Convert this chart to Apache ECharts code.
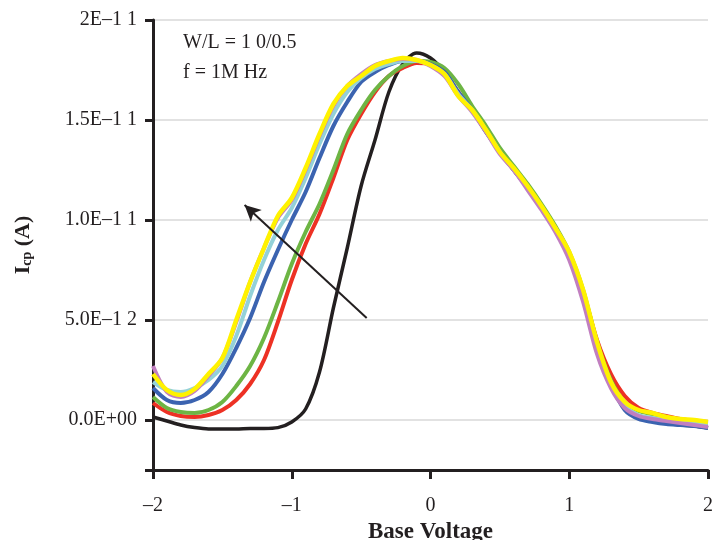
<!DOCTYPE html>
<html>
  <head>
    <meta http-equiv="Content-Type" content="text/html; charset=utf-8" />
    <title>Icp vs Base Voltage</title>
    <script src="https://cdn.jsdelivr.net/npm/echarts@6.0.0/dist/echarts.min.js"></script>
    <style>
      html,
      body {
        margin: 0;
        padding: 0;
        background: #fff;
      }
      #chart {
        width: 713px;
        height: 540px;
      }
    </style>
  </head>

  <body>
    <div id="chart"></div>

    <script type="text/javascript">
      "use strict"

      // 横轴 (V)
      const voltage = [
        -2.0, -1.9, -1.8, -1.7, -1.6, -1.5, -1.4, -1.3, -1.2, -1.1, -1.0, -0.9, -0.8, -0.7, -0.6, -0.5, -0.4, -0.3, -0.2, -0.1, 0.0,
        0.1, 0.2, 0.3, 0.4, 0.5, 0.6, 0.7, 0.8, 0.9, 1.0, 1.1, 1.2, 1.3, 1.4, 1.5, 1.6, 1.7, 1.8, 1.9, 2.0
      ]

      // Icp，单位 1E-12 A
      const icpBlack = [
        0.15, -0.05, -0.25, -0.38, -0.45, -0.45, -0.45, -0.42, -0.42, -0.38, -0.1, 0.55, 2.4, 5.6, 8.6, 11.7, 14.0, 16.4, 17.8, 18.35, 18.1,
        17.4, 16.4, 15.5, 14.4, 13.4, 12.5, 11.6, 10.6, 9.6, 8.3, 6.3, 3.7, 1.7, 0.6, 0.15, -0.05, -0.15, -0.25, -0.3, -0.4
      ]
      const icpRed = [
        0.85, 0.4, 0.2, 0.15, 0.25, 0.5, 1.0, 1.8, 3.0, 4.9, 7.0, 8.8, 10.3, 12.1, 14.0, 15.3, 16.4, 17.2, 17.6, 17.85, 17.8,
        17.35, 16.4, 15.5, 14.5, 13.4, 12.5, 11.6, 10.6, 9.6, 8.3, 6.4, 4.0, 2.3, 1.2, 0.6, 0.35, 0.2, 0.05, -0.05, -0.1
      ]
      const icpGreen = [
        1.15, 0.6, 0.4, 0.35, 0.5, 0.9, 1.7, 2.7, 4.1, 5.9, 7.8, 9.4, 10.8, 12.5, 14.3, 15.5, 16.5, 17.2, 17.7, 17.95, 17.9,
        17.6, 16.8, 15.7, 14.7, 13.6, 12.7, 11.8, 10.8, 9.7, 8.4, 6.5, 3.9, 2.0, 0.9, 0.45, 0.3, 0.15, 0.0, -0.1, -0.15
      ]
      const icpBlue = [
        1.6, 1.0, 0.85, 1.0, 1.4, 2.3, 3.6, 5.1, 6.9, 8.5, 10.0, 11.4, 13.1, 14.7, 15.9, 16.9, 17.4, 17.75, 17.95, 17.95, 17.8,
        17.4, 16.4, 15.5, 14.4, 13.4, 12.5, 11.6, 10.6, 9.6, 8.3, 6.3, 3.7, 1.8, 0.5, 0.05, -0.1, -0.2, -0.25, -0.3, -0.4
      ]
      const icpCyan = [
        1.9, 1.5, 1.4, 1.6, 2.0, 2.7, 4.2, 6.2, 8.0, 9.5, 10.6, 12.1, 13.8, 15.3, 16.4, 17.1, 17.55, 17.8, 17.95, 17.95, 17.75,
        17.3, 16.3, 15.5, 14.5, 13.4, 12.5, 11.6, 10.6, 9.6, 8.3, 6.4, 3.8, 1.9, 0.7, 0.25, 0.1, 0.0, -0.1, -0.15, -0.2
      ]
      const icpPurple = [
        2.7, 1.4, 1.15, 1.45, 2.2, 3.1, 4.9, 6.9, 8.6, 10.1, 11.0, 12.5, 14.2, 15.7, 16.7, 17.3, 17.75, 17.95, 18.05, 18.0, 17.7,
        17.2, 16.2, 15.4, 14.4, 13.3, 12.5, 11.5, 10.5, 9.4, 8.0, 5.9, 3.3, 1.6, 0.6, 0.2, 0.05, -0.05, -0.15, -0.25, -0.35
      ]
      const icpYellow = [
        2.3, 1.5, 1.25, 1.55, 2.3, 3.1, 5.0, 6.9, 8.6, 10.2, 11.1, 12.6, 14.3, 15.8, 16.7, 17.2, 17.7, 17.95, 18.1, 18.0, 17.75,
        17.3, 16.2, 15.5, 14.5, 13.4, 12.6, 11.7, 10.7, 9.6, 8.4, 6.5, 3.9, 1.9, 0.9, 0.5, 0.35, 0.15, 0.05, 0.0, -0.1
      ]

      // 刻度
      const xTickLabels = ["–2", "–1", "0", "1", "2"]
      const yTickValues = [0, 5, 10, 15, 20]
      const yTickLabels = ["0.0E+00", "5.0E–1 2", "1.0E–1 1", "1.5E–1 1", "2E–1 1"]

      // 箭头 (起点 -> 终点)
      const arrowFrom = [-0.46, 5.1]
      const arrowTo = [-1.34, 10.75]

      const notes = ["W/L = 1 0/0.5", "f = 1M Hz"]

      const ink = "#231f20"
      const serif = "Liberation Serif"

      function pairs(ys) {
        return voltage.map((v, i) => [v, ys[i]])
      }

      function makeLine(name, color, ys, width) {
        return {
          name: name,
          type: "line",
          smooth: 0.3,
          symbol: "none",
          lineStyle: { color: color, width: width },
          data: pairs(ys),
          z: 3
        }
      }

      const myChart = echarts.init(document.getElementById("chart"), null, { renderer: "canvas" })

      const series = [
        makeLine("black", ink, icpBlack, 3.5),
        makeLine("red", "#ed3124", icpRed, 4),
        makeLine("green", "#6db544", icpGreen, 4),
        makeLine("blue", "#3b63b0", icpBlue, 4),
        makeLine("cyan", "#93d1d8", icpCyan, 4),
        makeLine("purple", "#c17fc0", icpPurple, 4),
        makeLine("yellow", "#fff200", icpYellow, 4.5)
      ]

      // 箭头
      series.push({
        type: "line",
        data: [],
        markLine: {
          silent: true,
          symbol: ["none", "arrow"],
          symbolSize: [12, 16],
          label: { show: false },
          lineStyle: { color: ink, width: 2, type: "solid" },
          data: [[{ coord: arrowFrom }, { coord: arrowTo }]]
        },
        z: 5
      })

      const option = {
        animation: false,
        backgroundColor: "#fff",
        grid: { left: 153, right: 5, top: 20, bottom: 70, outerBoundsMode: "none", containLabel: false },
        xAxis: {
          type: "value",
          min: -2,
          max: 2,
          interval: 1,
          name: "Base Voltage",
          nameLocation: "middle",
          nameGap: 49,
          nameTextStyle: { fontFamily: serif, fontWeight: "bold", fontSize: 23, color: ink },
          axisLine: { show: true, onZero: false, lineStyle: { color: ink, width: 3 } },
          axisTick: { show: true, length: 9, lineStyle: { color: ink, width: 3 } },
          axisLabel: {
            margin: 26,
            fontFamily: serif,
            fontSize: 20,
            color: ink,
            formatter: (v) => xTickLabels[Math.round(v + 2)]
          },
          splitLine: { show: false }
        },
        yAxis: {
          type: "value",
          min: -2.5,
          max: 20,
          name: "{b|I}{s|cp}{b| (A)}",
          nameLocation: "middle",
          nameGap: 117,
          nameTextStyle: {
            rich: {
              b: { fontFamily: serif, fontWeight: "bold", fontSize: 22, color: ink, lineHeight: 26 },
              s: { fontFamily: serif, fontWeight: "bold", fontSize: 14, color: ink, lineHeight: 26, padding: [8, 0, 0, 0] }
            }
          },
          axisLine: { show: true, onZero: false, lineStyle: { color: ink, width: 3 } },
          axisTick: {
            show: true,
            length: 8,
            customValues: [-2.5].concat(yTickValues),
            lineStyle: { color: ink, width: 3 }
          },
          axisLabel: {
            margin: 16,
            fontFamily: serif,
            fontSize: 20,
            color: ink,
            customValues: yTickValues,
            formatter: (v) => yTickLabels[yTickValues.indexOf(v)]
          },
          splitLine: { show: true, lineStyle: { color: "#d9d9d9", width: 1.5 } }
        },
        graphic: [
          {
            type: "text",
            left: 183,
            top: 33,
            style: { text: notes[0], font: '20px "Liberation Serif"', fill: ink }
          },
          {
            type: "text",
            left: 183,
            top: 63,
            style: { text: notes[1], font: '20px "Liberation Serif"', fill: ink }
          }
        ],
        series: series
      }

      myChart.setOption(option)
    </script>
  </body>
</html>
